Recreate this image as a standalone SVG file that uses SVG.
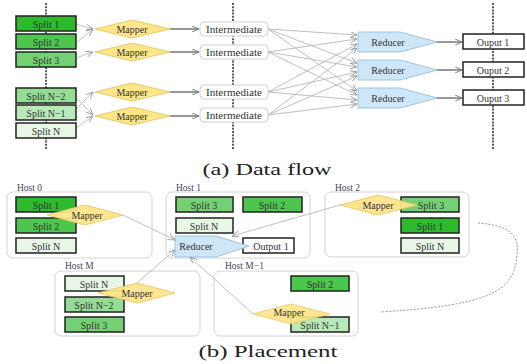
<svg xmlns="http://www.w3.org/2000/svg" width="527" height="364" viewBox="0 0 527 364">
<defs>
<style>
text{font-family:"Liberation Serif","Times New Roman",serif;fill:#333;text-anchor:middle;dominant-baseline:central}
.lbl{font-size:10px}
.host-lbl{font-size:9.5px;text-anchor:start;fill:#445}
.cap{font-size:17px;fill:#222;dominant-baseline:alphabetic}
.split{stroke:#222;stroke-width:1.5}
.s1{fill:#2dba2d}.s2{fill:#4cc64c}.s3{fill:#73d173}.sn2{fill:#95dc95}.sn1{fill:#b9e8b9}.sn{fill:#e8f6e6}
.mapper{fill:#fde58a;stroke:#e9cc6a;stroke-width:1}
.reducer{fill:#cfe6f8;stroke:#9ec6e2;stroke-width:1}
.inter{fill:#fff;stroke:#cfcfcf;stroke-width:1}
.out{fill:#fff;stroke:#222;stroke-width:1.5}
.host{fill:#fff;stroke:#d2d2d2;stroke-width:1}
.vdash{stroke:#333;stroke-width:1.6;stroke-dasharray:2 1.2;fill:none}
.gl{stroke:#b8b8b8;stroke-width:0.9;fill:none}
.dl{stroke:#333;stroke-width:1;fill:none}
</style>
<marker id="ag" markerWidth="8" markerHeight="6" refX="7" refY="3" orient="auto" markerUnits="userSpaceOnUse">
<path d="M0,0 L7,3 L0,6" fill="none" stroke="#9a9a9a" stroke-width="0.9"/>
</marker>
<marker id="ad" markerWidth="8" markerHeight="6" refX="7" refY="3" orient="auto" markerUnits="userSpaceOnUse">
<path d="M0,0 L7,3 L0,6" fill="none" stroke="#777" stroke-width="0.9"/>
</marker>
</defs>
<rect width="527" height="364" fill="#fff"/>

<!-- (a) Data flow -->
<g id="dashes">
<line class="vdash" x1="46" y1="3" x2="46" y2="149"/>
<line class="vdash" x1="233" y1="3" x2="233" y2="149"/>
<line class="vdash" x1="493" y1="3" x2="493" y2="149"/>
</g>

<g id="connectors-a">
<line class="gl" x1="76" y1="24" x2="93" y2="29" marker-end="url(#ag)"/>
<line class="gl" x1="76" y1="43" x2="93" y2="29" marker-end="url(#ag)"/>
<line class="gl" x1="76" y1="58" x2="93" y2="52" marker-end="url(#ag)"/>
<line class="gl" x1="76" y1="98" x2="93" y2="115" marker-end="url(#ag)"/>
<line class="gl" x1="76" y1="109" x2="93" y2="92" marker-end="url(#ag)"/>
<line class="gl" x1="76" y1="128" x2="93" y2="116" marker-end="url(#ag)"/>
<line class="dl" x1="170" y1="29" x2="199" y2="29" marker-end="url(#ad)"/>
<line class="dl" x1="170" y1="52" x2="199" y2="52" marker-end="url(#ad)"/>
<line class="dl" x1="170" y1="92" x2="199" y2="92" marker-end="url(#ad)"/>
<line class="dl" x1="170" y1="116" x2="199" y2="116" marker-end="url(#ad)"/>
<g class="gl" marker-end="url(#ag)">
<line x1="268" y1="29" x2="357" y2="35"/>
<line x1="268" y1="29" x2="357" y2="63"/>
<line x1="268" y1="29" x2="357" y2="91"/>
<line x1="268" y1="52" x2="357" y2="39"/>
<line x1="268" y1="52" x2="357" y2="67"/>
<line x1="268" y1="52" x2="357" y2="95"/>
<line x1="268" y1="92" x2="357" y2="44"/>
<line x1="268" y1="92" x2="357" y2="72"/>
<line x1="268" y1="92" x2="357" y2="100"/>
<line x1="268" y1="115" x2="357" y2="48"/>
<line x1="268" y1="115" x2="357" y2="76"/>
<line x1="268" y1="115" x2="357" y2="104"/>
</g>
<line class="dl" x1="437" y1="42" x2="462" y2="42" marker-end="url(#ad)"/>
<line class="dl" x1="437" y1="70" x2="462" y2="70" marker-end="url(#ad)"/>
<line class="dl" x1="437" y1="98" x2="462" y2="98" marker-end="url(#ad)"/>
</g>

<g id="a-split1"><rect class="split s1" x="16" y="16" width="60" height="15"/><text class="lbl" x="46" y="24">Split 1</text></g>
<g id="a-split2"><rect class="split s2" x="16" y="34" width="60" height="15"/><text class="lbl" x="46" y="42">Split 2</text></g>
<g id="a-split3"><rect class="split s3" x="16" y="52" width="60" height="15"/><text class="lbl" x="46" y="60">Split 3</text></g>
<g id="a-splitN2"><rect class="split sn2" x="16" y="88" width="60" height="15"/><text class="lbl" x="46" y="96">Split N−2</text></g>
<g id="a-splitN1"><rect class="split sn1" x="16" y="105" width="60" height="15"/><text class="lbl" x="46" y="113">Split N−1</text></g>
<g id="a-splitN"><rect class="split sn" x="16" y="123" width="60" height="15"/><text class="lbl" x="46" y="131">Split N</text></g>

<g id="a-mapper1"><polygon class="mapper" points="95,29 132,20 170,29 132,38"/><text class="lbl" x="132" y="29">Mapper</text></g>
<g id="a-mapper2"><polygon class="mapper" points="95,52 132,43 170,52 132,61"/><text class="lbl" x="132" y="52">Mapper</text></g>
<g id="a-mapper3"><polygon class="mapper" points="95,92 132,83 170,92 132,101"/><text class="lbl" x="132" y="92">Mapper</text></g>
<g id="a-mapper4"><polygon class="mapper" points="95,116 132,107 170,116 132,125"/><text class="lbl" x="132" y="116">Mapper</text></g>

<g id="a-inter1"><rect class="inter" x="200" y="22" width="68" height="14" rx="4"/><text class="lbl" x="234" y="29" textLength="56" lengthAdjust="spacingAndGlyphs">Intermediate</text></g>
<g id="a-inter2"><rect class="inter" x="200" y="45" width="68" height="14" rx="4"/><text class="lbl" x="234" y="52" textLength="56" lengthAdjust="spacingAndGlyphs">Intermediate</text></g>
<g id="a-inter3"><rect class="inter" x="200" y="85" width="68" height="14" rx="4"/><text class="lbl" x="234" y="92" textLength="56" lengthAdjust="spacingAndGlyphs">Intermediate</text></g>
<g id="a-inter4"><rect class="inter" x="200" y="108" width="68" height="14" rx="4"/><text class="lbl" x="234" y="115" textLength="56" lengthAdjust="spacingAndGlyphs">Intermediate</text></g>

<g id="a-reducer1"><polygon class="reducer" points="358,32 400,32 437,42 400,52 358,52"/><text class="lbl" x="388" y="42">Reducer</text></g>
<g id="a-reducer2"><polygon class="reducer" points="358,60 400,60 437,70 400,80 358,80"/><text class="lbl" x="388" y="70">Reducer</text></g>
<g id="a-reducer3"><polygon class="reducer" points="358,88 400,88 437,98 400,108 358,108"/><text class="lbl" x="388" y="98">Reducer</text></g>

<g id="a-output1"><rect class="out" x="463" y="34" width="61" height="15"/><text class="lbl" x="493" y="42">Ouput 1</text></g>
<g id="a-output2"><rect class="out" x="463" y="62" width="61" height="15"/><text class="lbl" x="493" y="70">Ouput 2</text></g>
<g id="a-output3"><rect class="out" x="463" y="90" width="61" height="15"/><text class="lbl" x="493" y="98">Ouput 3</text></g>

<text class="cap" x="267" y="175" textLength="129" lengthAdjust="spacingAndGlyphs">(a) Data flow</text>

<!-- (b) Placement -->
<path id="ring" d="M478,223 C505,225 520,232 517,255 C514,290 495,305 380,312" fill="none" stroke="#999" stroke-width="1" stroke-dasharray="2 1.5"/>

<g id="host0">
<text class="host-lbl" x="17" y="188">Host 0</text>
<rect class="host" x="7" y="192" width="145" height="66" rx="6"/>
<g id="h0-split1"><rect class="split s1" x="16" y="197" width="60" height="15"/><text class="lbl" x="46" y="205">Split 1</text></g>
<g id="h0-split2"><rect class="split s2" x="16" y="218" width="60" height="15"/><text class="lbl" x="46" y="226">Split 2</text></g>
<g id="h0-splitN"><rect class="split sn" x="16" y="238" width="60" height="15"/><text class="lbl" x="46" y="246">Split N</text></g>
<g id="h0-mapper"><polygon class="mapper" points="47,215 85,205 123,215 85,225" opacity="0.95"/><text class="lbl" x="87" y="215">Mapper</text></g>
</g>

<g id="host1">
<text class="host-lbl" x="176" y="188">Host 1</text>
<rect class="host" x="166" y="192" width="144" height="66" rx="6"/>
<g id="h1-split3"><rect class="split s3" x="176" y="197" width="57" height="15"/><text class="lbl" x="204" y="205">Split 3</text></g>
<g id="h1-split2"><rect class="split s2" x="243" y="197" width="59" height="15"/><text class="lbl" x="272" y="205">Split 2</text></g>
<g id="h1-splitN"><rect class="split sn" x="176" y="218" width="57" height="15"/><text class="lbl" x="204" y="226">Split N</text></g>
<g id="h1-output1"><rect class="out" x="243" y="238" width="51" height="15"/><text class="lbl" x="271" y="246">Output 1</text></g>
<g id="h1-reducer"><polygon class="reducer" points="175,236 216,236 249,246 216,257 175,257"/><text class="lbl" x="196" y="246">Reducer</text></g>
</g>

<g id="host2">
<text class="host-lbl" x="335" y="188">Host 2</text>
<rect class="host" x="325" y="192" width="144" height="65" rx="6"/>
<g id="h2-split3"><rect class="split s3" x="401" y="197" width="58" height="15"/><text class="lbl" x="431" y="205">Split 3</text></g>
<g id="h2-split1"><rect class="split s1" x="401" y="218" width="58" height="15"/><text class="lbl" x="430" y="226">Split 1</text></g>
<g id="h2-splitN"><rect class="split sn" x="401" y="238" width="58" height="15"/><text class="lbl" x="430" y="246">Split N</text></g>
<g id="h2-mapper"><polygon class="mapper" points="340,205 378,195 417,205 378,215" opacity="0.95"/><text class="lbl" x="378" y="205">Mapper</text></g>
</g>

<g id="hostM">
<text class="host-lbl" x="65" y="266">Host M</text>
<rect class="host" x="55" y="271" width="145" height="65" rx="6"/>
<g id="hM-splitN"><rect class="split sn" x="65" y="276" width="59" height="15"/><text class="lbl" x="94" y="284">Split N</text></g>
<g id="hM-splitN2"><rect class="split sn2" x="65" y="297" width="59" height="15"/><text class="lbl" x="94" y="305">Split N−2</text></g>
<g id="hM-split3"><rect class="split s3" x="65" y="317" width="59" height="15"/><text class="lbl" x="94" y="325">Split 3</text></g>
<g id="hM-mapper"><polygon class="mapper" points="98,293 137,283 175,293 137,303" opacity="0.95"/><text class="lbl" x="137" y="293">Mapper</text></g>
</g>

<g id="hostM1">
<text class="host-lbl" x="225" y="266">Host M−1</text>
<rect class="host" x="214" y="271" width="144" height="65" rx="6"/>
<g id="hM1-split2"><rect class="split s2" x="291" y="276" width="58" height="15"/><text class="lbl" x="320" y="284">Split 2</text></g>
<g id="hM1-splitN1"><rect class="split sn1" x="291" y="317" width="58" height="15"/><text class="lbl" x="320" y="325">Split N−1</text></g>
<g id="hM1-mapper"><polygon class="mapper" points="253,314 291,304 330,314 291,324" opacity="0.9"/><text class="lbl" x="289" y="312">Mapper</text></g>
</g>

<g id="connectors-b" class="gl" marker-end="url(#ag)">
<line x1="123" y1="215" x2="175" y2="240"/>
<line x1="340" y1="205" x2="232" y2="236"/>
<line x1="137" y1="283" x2="175" y2="250"/>
<line x1="253" y1="314" x2="190" y2="257"/>
</g>

<text class="cap" x="268" y="357" textLength="139" lengthAdjust="spacingAndGlyphs">(b) Placement</text>
</svg>
